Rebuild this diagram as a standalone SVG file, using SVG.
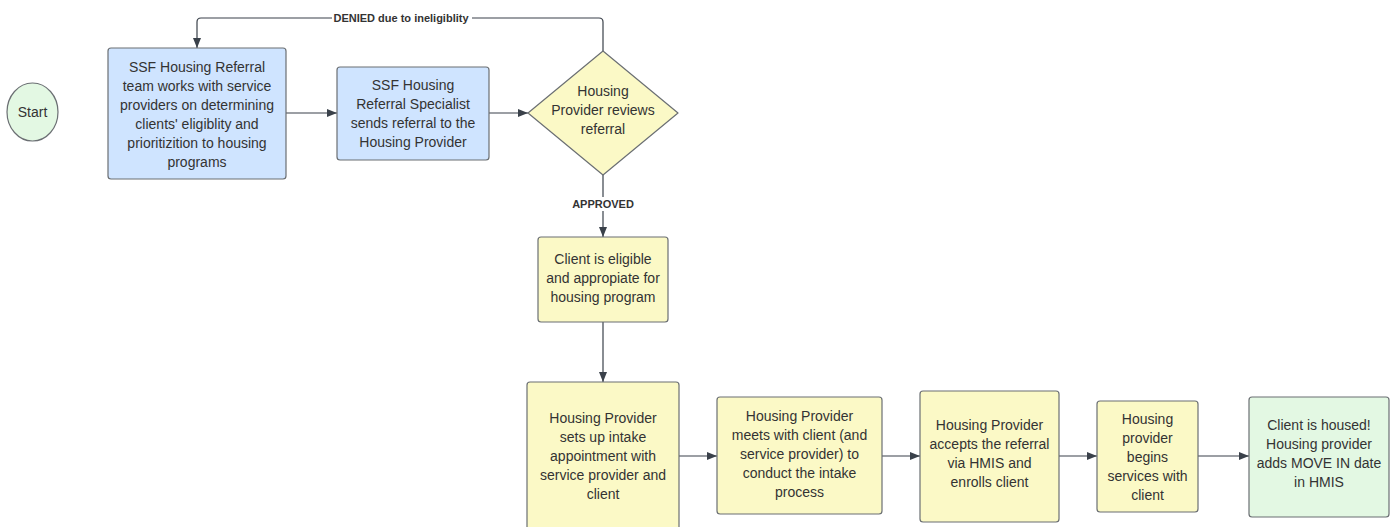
<svg xmlns="http://www.w3.org/2000/svg" width="1395" height="527" viewBox="0 0 1395 527">
<defs>
<marker id="ah" markerWidth="10" markerHeight="8" refX="10" refY="4" orient="auto" markerUnits="userSpaceOnUse">
<path d="M0,0 L10,4 L0,8 Z" fill="#3a414a"/>
</marker>
<style>
.box{stroke:#6b6f73;stroke-width:1.2}
.blue{fill:#cfe4ff}
.yel{fill:#fbf9c6}
.grn{fill:#e3f8e3}
.t{font-family:"Liberation Sans",Arial,sans-serif;font-size:14px;fill:#333;text-anchor:middle}
.lbl{font-family:"Liberation Sans",Arial,sans-serif;font-size:11px;font-weight:bold;fill:#333;text-anchor:middle}
.c{fill:none;stroke:#3a414a;stroke-width:1.2}
</style>
</defs>
<rect width="1395" height="527" fill="#fff"/>
<g id="connectors">
<path class="c" d="M286,113 H337" marker-end="url(#ah)"/>
<path class="c" d="M489,113 H528" marker-end="url(#ah)"/>
<path class="c" d="M603,51 V22 Q603,18 599,18 H201 Q197,18 197,22 V48" marker-end="url(#ah)"/>
<rect x="332" y="11" width="140" height="14" fill="#fff"/>
<text class="lbl" x="401" y="22">DENIED due to ineligiblity</text>
<path class="c" d="M603,175 V237" marker-end="url(#ah)"/>
<rect x="568" y="197" width="70" height="14" fill="#fff"/>
<text class="lbl" x="603" y="208">APPROVED</text>
<path class="c" d="M603,322 V382" marker-end="url(#ah)"/>
<path class="c" d="M679,456 H717" marker-end="url(#ah)"/>
<path class="c" d="M882,456 H920" marker-end="url(#ah)"/>
<path class="c" d="M1059,456 H1097" marker-end="url(#ah)"/>
<path class="c" d="M1198,456 H1249" marker-end="url(#ah)"/>
</g>
<g id="start">
<ellipse class="box grn" cx="32.5" cy="112" rx="25.5" ry="29"/>
<text class="t" x="32.5" y="117">Start</text>
</g>
<g id="n1">
<rect class="box blue" x="108" y="48" width="178" height="131" rx="3"/>
<text class="t"><tspan x="197" y="72">SSF Housing Referral</tspan><tspan x="197" y="91">team works with service</tspan><tspan x="197" y="110">providers on determining</tspan><tspan x="197" y="129">clients' eligiblity and</tspan><tspan x="197" y="148">prioritizition to housing</tspan><tspan x="197" y="167">programs</tspan></text>
</g>
<g id="n2">
<rect class="box blue" x="337" y="67" width="152" height="93" rx="3"/>
<text class="t"><tspan x="413" y="90">SSF Housing</tspan><tspan x="413" y="109">Referral Specialist</tspan><tspan x="413" y="128">sends referral to the</tspan><tspan x="413" y="147">Housing Provider</tspan></text>
</g>
<g id="d1">
<path class="box yel" d="M603,51 L678,113 L603,175 L528,113 Z" stroke-linejoin="round"/>
<text class="t"><tspan x="603" y="96">Housing</tspan><tspan x="603" y="115">Provider reviews</tspan><tspan x="603" y="134">referral</tspan></text>
</g>
<g id="n3">
<rect class="box yel" x="538" y="237" width="130" height="85" rx="3"/>
<text class="t"><tspan x="603" y="264">Client is eligible</tspan><tspan x="603" y="283">and appropiate for</tspan><tspan x="603" y="302">housing program</tspan></text>
</g>
<g id="n4">
<rect class="box yel" x="527" y="382" width="152" height="160" rx="3"/>
<text class="t"><tspan x="603" y="423">Housing Provider</tspan><tspan x="603" y="442">sets up intake</tspan><tspan x="603" y="461">appointment with</tspan><tspan x="603" y="480">service provider and</tspan><tspan x="603" y="499">client</tspan></text>
</g>
<g id="n5">
<rect class="box yel" x="717" y="397" width="165" height="117" rx="3"/>
<text class="t"><tspan x="799.5" y="421">Housing Provider</tspan><tspan x="799.5" y="440">meets with client (and</tspan><tspan x="799.5" y="459">service provider) to</tspan><tspan x="799.5" y="478">conduct the intake</tspan><tspan x="799.5" y="497">process</tspan></text>
</g>
<g id="n6">
<rect class="box yel" x="920" y="391" width="139" height="131" rx="3"/>
<text class="t"><tspan x="989.5" y="430">Housing Provider</tspan><tspan x="989.5" y="449">accepts the referral</tspan><tspan x="989.5" y="468">via HMIS and</tspan><tspan x="989.5" y="487">enrolls client</tspan></text>
</g>
<g id="n7">
<rect class="box yel" x="1097" y="401" width="101" height="111" rx="3"/>
<text class="t"><tspan x="1147.5" y="424">Housing</tspan><tspan x="1147.5" y="443">provider</tspan><tspan x="1147.5" y="462">begins</tspan><tspan x="1147.5" y="481">services with</tspan><tspan x="1147.5" y="500">client</tspan></text>
</g>
<g id="n8">
<rect class="box grn" x="1249" y="397" width="140" height="120" rx="3"/>
<text class="t"><tspan x="1319" y="430">Client is housed!</tspan><tspan x="1319" y="449">Housing provider</tspan><tspan x="1319" y="468">adds MOVE IN date</tspan><tspan x="1319" y="487">in HMIS</tspan></text>
</g>
</svg>
